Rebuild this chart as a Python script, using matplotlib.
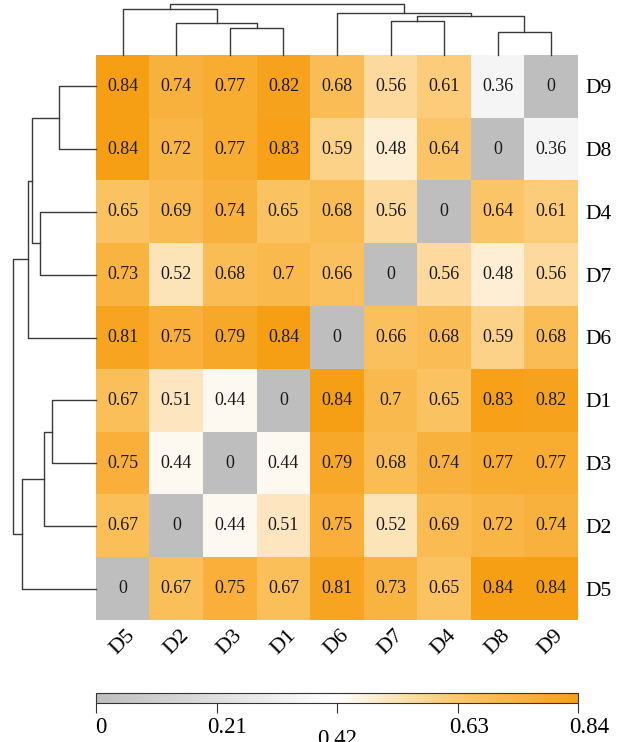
import numpy as np
import matplotlib
matplotlib.use("Agg")
import matplotlib.pyplot as plt
from matplotlib.colors import LinearSegmentedColormap
from matplotlib.transforms import ScaledTranslation

plt.rcParams['font.family'] = ['Liberation Serif', 'DejaVu Serif']

# leaf order of the columns (left to right); rows are the same order reversed
col_labels = ["D5", "D2", "D3", "D1", "D6", "D7", "D4", "D8", "D9"]
row_labels = col_labels[::-1]

# values as shown, rows top to bottom
values = [
    [0.84, 0.74, 0.77, 0.82, 0.68, 0.56, 0.61, 0.36, 0],
    [0.84, 0.72, 0.77, 0.83, 0.59, 0.48, 0.64, 0, 0.36],
    [0.65, 0.69, 0.74, 0.65, 0.68, 0.56, 0, 0.64, 0.61],
    [0.73, 0.52, 0.68, 0.7, 0.66, 0, 0.56, 0.48, 0.56],
    [0.81, 0.75, 0.79, 0.84, 0, 0.66, 0.68, 0.59, 0.68],
    [0.67, 0.51, 0.44, 0, 0.84, 0.7, 0.65, 0.83, 0.82],
    [0.75, 0.44, 0, 0.44, 0.79, 0.68, 0.74, 0.77, 0.77],
    [0.67, 0, 0.44, 0.51, 0.75, 0.52, 0.69, 0.72, 0.74],
    [0, 0.67, 0.75, 0.67, 0.81, 0.73, 0.65, 0.84, 0.84],
]

# tree merges (relative heights); "Cn" = n-th merge
merges = [
    ("D8", "D9", 0.45),
    ("D3", "D1", 0.53),
    ("D2", "C2", 0.625),
    ("D7", "D4", 0.675),
    ("C4", "C1", 0.77),
    ("D6", "C5", 0.82),
    ("D5", "C3", 0.90),
    ("C7", "C6", 1.0),
]

cbar_ticks = [0, 0.21, 0.42, 0.63, 0.84]

cmap = LinearSegmentedColormap.from_list(
    "gwo", [(0.0, "#bebebe"), (0.5, "#ffffff"), (0.75, "#fcc76c"),
            (1.0, "#f79f14")])

W, H = 621, 742
fig = plt.figure(figsize=(W / 100, H / 100), dpi=100)


def box(x0, y0, x1, y1):
    return [x0 / W, 1 - y1 / H, (x1 - x0) / W, (y1 - y0) / H]


ax = fig.add_axes(box(96, 55, 578, 620))
ax_top = fig.add_axes(box(96, 4.3, 578, 55))
ax_left = fig.add_axes(box(13.3, 55, 96, 620))
cax = fig.add_axes(box(96, 692.7, 578, 703.3))

data = np.array(values)
im = ax.imshow(data, cmap=cmap, vmin=0, vmax=0.84, aspect='auto')
for i in range(data.shape[0]):
    for j in range(data.shape[1]):
        ax.text(j, i, f"{data[i, j]:g}", ha='center', va='center',
                fontsize=13, color='#1a1a1a')

ax.set_xticks(range(len(col_labels)))
ax.set_xticklabels(col_labels, rotation=45, ha='center', va='top', fontsize=16)
ax.set_yticks(range(len(row_labels)))
ax.set_yticklabels(row_labels, fontsize=15.5)
ax.yaxis.tick_right()
ax.tick_params(axis='both', length=0)
ax.tick_params(axis='x', pad=4)
ax.tick_params(axis='y', pad=5)
for s in ax.spines.values():
    s.set_visible(False)


# dendrograms
def tree_coords(pos):
    nodes = {k: (v, 0.0) for k, v in pos.items()}
    segs = []
    for n, (a, b, h) in enumerate(merges, start=1):
        pa, ha = nodes[a]
        pb, hb = nodes[b]
        segs.append(([pa, pa, pb, pb], [ha, h, h, hb]))
        nodes["C%d" % n] = ((pa + pb) / 2, h)
    return segs


line_kw = dict(color='#3a3a3a', lw=1.0, clip_on=False)

for p, hs in tree_coords({l: i for i, l in enumerate(col_labels)}):
    ax_top.plot(p, hs, **line_kw)
ax_top.set_xlim(-0.5, len(col_labels) - 0.5)
ax_top.set_ylim(0, 1.0)
ax_top.axis('off')

for p, hs in tree_coords({l: i for i, l in enumerate(row_labels)}):
    ax_left.plot(hs, p, **line_kw)
ax_left.set_ylim(len(row_labels) - 0.5, -0.5)
ax_left.set_xlim(1.0, 0)
ax_left.axis('off')

# colour key
cb = fig.colorbar(im, cax=cax, orientation='horizontal', ticks=cbar_ticks)
cb.outline.set_linewidth(0.8)
cb.outline.set_edgecolor('#333333')
cax.tick_params(length=7, width=0.8, color='#333333', labelsize=16.5, pad=3)
cax.set_xticklabels([f"{t:g}" for t in cbar_ticks])
shifts = {0: (5, 0), 0.21: (10, 0), 0.42: (0, -12), 0.63: (12, 0), 0.84: (11, 0)}
for t, lab in zip(cbar_ticks, cax.get_xticklabels()):
    dx, dy = shifts[t]
    lab.set_transform(lab.get_transform() +
                      ScaledTranslation(dx / 100, dy / 100, fig.dpi_scale_trans))

fig.savefig("out.png", dpi=100, facecolor='white')
